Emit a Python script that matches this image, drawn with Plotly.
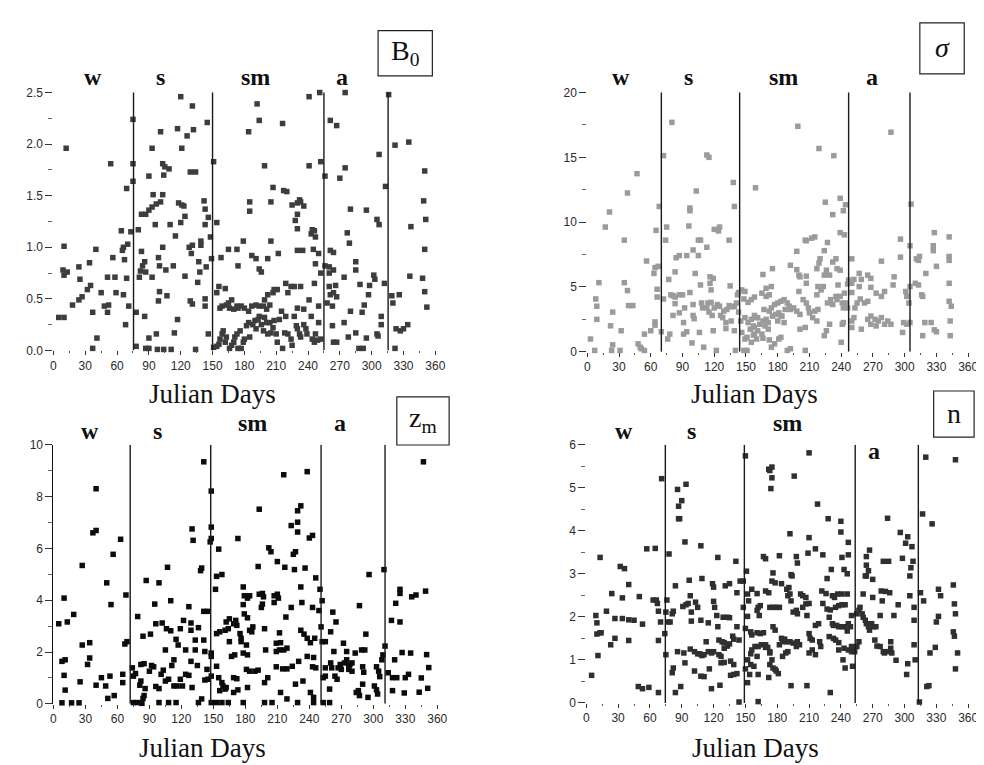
import plotly.graph_objects as go

# ---------------- data (Julian day, value) ----------------
b0_points = [
(5,0.32),(10,0.32),(12,1.96),(10,1.01),(9,0.78),(10,0.73),(13,0.76),(18,0.44),(24,0.49),(27,0.52),
(24,0.81),(25,0.69),(32,0.59),(35,0.63),(34,0.85),(40,0.98),(37,0.37),(41,0.12),(37,0.02),(45,0.56),
(48,0.43),(52,0.44),(51,0.37),(54,1.81),(56,0.90),(51,0.71),(58,0.71),(59,0.56),(66,0.54),(64,1.16),
(65,0.97),(66,1.00),(70,1.03),(67,0.88),(69,0.70),(68,0.25),(71,0.43),(69,1.57),(73,1.15),(75,2.24),
(75,1.81),(75,1.64),(78,0.37),(78,0.04),(80,1.17),(83,1.32),(87,1.32),(90,1.36),(93,1.39),(97,1.42),
(101,1.44),(83,0.96),(82,0.77),(84,0.82),(86,0.86),(87,0.76),(81,0.71),(86,0.33),(90,0.12),(87,0.02),
(90,0.02),(93,1.96),(90,1.69),(94,1.51),(103,1.51),(96,1.22),(93,0.71),(99,0.90),(100,0.82),(100,0.57),
(99,0.48),(107,0.53),(97,0.16),(98,0.01),(104,0.01),(111,0.01),(101,2.12),(103,1.81),(105,1.78),(109,1.76),
(104,1.70),(103,1.00),(106,0.78),(113,0.82),(110,1.22),(115,1.11),(117,2.15),(120,2.46),(121,1.96),(118,1.43),
(121,1.41),(123,1.40),(120,1.24),(124,1.30),(117,0.30),(114,0.17),(124,0.72),(128,1.00),(131,1.02),(130,0.94),
(126,2.08),(132,2.14),(131,2.37),(129,1.73),(134,1.73),(129,0.48),(131,0.45),(137,0.86),(138,0.76),(136,0.66),
(139,1.06),(139,1.02),(134,0.01),(142,1.45),(143,1.37),(143,1.22),(143,0.50),(143,0.43),(144,0.81),(145,2.21),
(146,0.16),
(151,1.83),(146,1.29),(148,1.10),(149,0.89),(154,1.24),(151,0.03),(154,0.04),
(156,0.06),(157,0.11),(159,0.16),(160,0.19),(162,0.08),(163,0.13),(166,0.02),(168,0.05),(170,0.08),(171,0.13),
(173,0.16),(174,0.02),(176,0.19),(177,0.02),(179,0.08),(180,0.11),(182,0.24),(184,0.27),(185,0.13),(188,0.25),
(190,0.29),(191,0.21),(193,0.30),(194,0.33),(196,0.25),(198,0.19),(199,0.32),(201,0.27),(202,0.16),(204,0.27),
(205,0.17),(207,0.22),(208,0.29),(210,0.16),(211,0.08),(213,0.30),(216,0.02),(218,0.17),(219,0.33),(221,0.16),
(224,0.11),(225,0.05),(227,0.33),(229,0.24),(230,0.21),(232,0.16),(233,0.13),(236,0.25),(238,0.21),(239,0.16),
(243,0.33),(244,0.11),(246,0.08),(247,0.16),(249,0.10),(250,0.27),(252,0.11),
(156,0.62),(154,0.56),(157,0.41),(159,0.43),(162,0.60),(163,0.44),(165,0.46),(166,0.41),(168,0.49),(170,0.40),
(173,0.43),(174,0.41),(177,0.43),(180,0.41),(184,0.38),(187,0.43),(191,0.44),(194,0.43),(198,0.43),(201,0.40),
(199,0.49),(202,0.54),(204,0.44),(207,0.56),(208,0.59),(211,0.59),(215,0.38),(219,0.65),(224,0.62),(221,0.56),
(230,0.41),(233,0.62),(236,0.40),(241,0.49),(246,0.65),(247,0.84),(250,0.43),(252,0.75),
(158,0.90),(165,0.98),(173,0.98),(174,0.82),(179,1.06),(187,0.92),(191,0.89),(194,0.79),(196,0.76),(202,0.89),
(205,1.06),(212,0.94),(227,0.62),(230,0.97),(235,0.97),(243,1.13),(244,1.17),(246,1.16),(247,1.10),(245,0.98),
(250,0.94),(185,1.44),(185,1.35),(199,1.79),(205,1.44),(207,1.58),(217,1.55),(220,1.54),(225,1.41),(230,1.43),
(232,1.46),(233,1.44),(236,1.40),(230,1.32),(228,1.26),(230,1.18),(241,1.79),(241,2.46),(251,2.50),(252,1.83),
(256,1.69),(192,2.39),(194,2.23),(184,2.12),(216,2.20),(261,2.23),(267,2.18),(275,2.50),(275,1.77),(270,1.67),
(261,0.97),(264,0.95),(256,0.82),(260,0.81),(264,0.78),(260,0.75),(274,0.71),(261,0.54),(264,0.56),(267,0.52),
(258,0.46),(263,0.43),(260,0.62),(266,0.63),(263,0.24),(264,0.08),(267,0.08),(274,0.27),(278,0.13),(280,0.38),
(280,1.37),(277,1.14),(279,1.04),(285,0.86),(285,0.78),(289,0.64),(295,1.36),(297,0.54),(293,0.44),(291,0.37),
(285,0.17),(288,0.02),(292,0.02),(295,0.12),(298,0.63),(302,0.73),(303,0.69),(305,1.27),(307,1.22),(307,1.90),
(313,1.59),(305,0.16),(306,0.14),(309,0.33),(309,0.25),(312,0.65),(316,2.48),(322,1.99),(319,0.53),(322,0.02),
(326,0.54),(320,0.46),(323,0.21),(327,0.19),(330,0.21),
(335,2.02),(337,1.20),(336,0.72),(334,0.25),(350,1.74),(349,1.45),(351,1.27),(350,0.98),(348,0.70),(350,0.57),(352,0.42),
]

sigma_points = [
(3,0.98),(7,0.10),(8,4.07),(9,3.51),(11,5.33),(9,2.50),(17,9.62),(21,10.78),(22,2.00),(24,3.06),
(24,0.53),(23,0.10),(31,0.10),(32,1.62),(35,8.61),(35,5.33),(38,4.72),(38,12.25),(39,3.56),(43,3.56),
(47,13.74),(48,0.61),(50,0.35),(51,0.23),(54,0.10),(54,1.36),(56,7.00),(60,1.62),(63,6.04),(64,6.49),
(64,2.30),(64,2.05),(66,4.82),(66,4.22),(65,9.37),(67,6.59),(68,11.21),(70,1.54),(72,15.13),(72,4.07),
(74,8.61),(75,9.62),(76,0.98),(77,5.58),(79,4.39),(81,4.32),(83,4.22),(87,4.39),(78,1.36),(80,17.70),
(83,6.16),(81,2.80),(83,3.71),(84,7.25),(87,7.42),(90,4.39),(87,3.00),(91,2.25),(92,3.38),(91,1.36),
(94,1.54),(94,7.42),(96,9.70),(97,10.88),(97,11.09),(97,4.57),(100,7.85),(100,3.64),(99,0.68),(100,2.80),
(101,2.55),(103,12.40),(102,6.04),(105,8.61),(107,8.61),(105,7.42),(107,5.15),(106,1.49),(108,3.76),(109,3.38),
(110,0.35),(113,8.06),(113,15.18),(115,15.00),(116,5.78),(119,5.66),(116,5.28),(114,3.76),(117,3.81),(113,3.38),
(115,3.06),(118,2.80),(117,4.77),(120,9.44),(125,9.62),(124,9.32),(120,3.38),(123,3.64),(125,3.51),(119,1.62),
(122,0.10),(126,2.80),(128,2.63),(129,3.13),(132,3.26),(131,2.25),(131,1.79),(134,8.61),(134,3.56),(135,5.08),
(136,2.37),(137,3.46),(139,3.51),(141,3.76),(138,13.06),(139,11.21),(139,1.62),(140,0.10),(143,4.57),(143,3.06),
(145,2.37),(142,4.39),(146,4.77),(148,4.07),(149,4.65),(146,1.49),(149,0.98),(151,1.11),(154,1.74),(155,0.73),
(158,1.36),(149,2.63),(152,2.25),(155,2.50),(157,1.99),(160,2.63),(148,0.10),(151,0.10),(152,3.81),(155,4.02),
(158,4.22),(159,12.65),
(158,1.87),(157,1.29),(160,0.98),(161,1.62),(165,1.36),(166,1.04),(158,2.80),(161,2.63),(163,2.12),(166,2.37),
(169,2.50),(171,2.25),(165,4.52),(169,4.27),(172,4.39),(168,1.99),(171,1.74),(167,3.26),(172,3.13),(174,3.38),
(177,3.64),(180,3.76),(183,3.89),(186,4.02),(189,3.76),(191,3.51),(192,3.26),(175,2.75),(178,2.88),(181,3.00),
(184,2.75),(187,3.26),(195,3.38),(198,3.13),(201,2.88),(172,0.91),(177,0.61),(181,0.98),(183,1.11),(174,0.35),
(175,6.41),(169,4.90),(174,5.03),(180,2.37),(186,2.25),(183,2.75),(166,5.96),(189,0.10),(192,0.23),(206,0.10),
(192,6.67),(198,6.34),(200,5.91),(198,7.75),(199,17.40),(201,5.78),(207,5.83),(207,5.28),(200,4.65),(204,4.02),
(207,3.76),(209,3.38),(201,1.74),(206,1.87),(206,8.61),(207,8.56),(212,8.76),(215,8.86),(210,3.00),(213,2.63),
(217,2.37),(215,3.13),(218,3.26),(217,4.39),(218,5.03),(221,4.77),(217,6.41),(219,6.84),(220,7.17),(219,15.68),
(224,5.91),(226,6.29),(223,5.03),(224,7.80),(227,8.43),(225,11.54),(224,1.24),(226,1.62),(229,2.12),(227,3.76),
(230,4.02),(232,3.64),(235,4.27),(229,5.91),(232,6.92),(232,10.58),(233,15.13),(235,7.17),(236,6.41),(239,6.29),
(237,5.15),(239,4.27),(241,3.76),(242,3.38),(236,4.02),(239,11.84),(239,9.19),(244,11.34),(242,10.88),(240,0.73),
(241,2.12),(242,2.25),(243,9.02),(244,3.76),(246,3.38),(243,4.52),(246,5.23),(247,5.53),(250,5.28),(252,5.58),
(250,4.57),(257,5.03),(259,5.58),(250,7.17),(250,1.87),(250,2.37),(252,2.63),(253,3.38),(255,3.76),(258,4.07),
(262,3.76),(265,3.89),(259,1.74),(257,6.04),(265,5.91),(268,5.66),(268,4.97),(265,2.50),(268,2.75),(272,2.50),
(275,2.37),(278,2.63),(281,2.12),(268,2.12),(273,1.99),(273,4.52),(278,4.27),(281,4.65),(278,6.99),(287,16.94),
(284,2.37),(287,2.12),(289,5.15),(290,5.78),(296,8.69),(296,7.30),(298,1.49),(299,2.25),(302,2.12),(305,2.25),
(301,4.65),(302,4.27),(304,3.76),(305,5.03),(305,8.18),(306,11.39),(311,7.17),(313,7.05),(314,7.35),(310,5.28),
(313,5.15),(316,4.39),(317,4.27),(320,6.04),(319,2.25),(317,1.24),(325,2.25),(327,7.80),(327,8.18),(328,9.19),
(330,6.59),(328,1.69),(330,1.54),(342,8.86),(342,7.35),(342,7.05),(342,5.28),(342,3.89),(344,3.51),(343,2.37),
(343,1.24),
]

zm_points = [
(5,3.09),(10,4.08),(8,1.64),(11,1.70),(10,1.10),(11,0.53),(8,0.04),(13,3.16),(19,3.45),(17,0.04),
(24,0.04),(25,0.85),(27,5.34),(27,2.27),(34,2.36),(34,1.77),(32,1.52),(37,6.60),(40,6.69),(40,8.30),
(40,0.72),(45,1.01),(49,0.69),(50,4.67),(53,1.07),(51,0.21),(54,3.83),(56,5.77),(57,0.32),(63,6.35),
(65,0.82),(65,1.14),(67,2.31),(69,2.40),(68,4.20),(75,1.07),(77,1.17),(74,1.39),(79,3.37),(81,0.72),
(82,0.88),(82,1.52),(85,1.55),(84,2.61),(86,0.59),(84,0.21),(85,0.32),(91,2.69),(87,4.76),(90,1.26),
(92,1.48),(94,1.43),(95,3.85),(96,3.09),(96,0.67),(99,0.59),(99,4.67),(101,1.14),(103,1.30),(102,3.12),
(106,2.90),(110,2.82),(107,5.27),(105,2.08),(105,0.88),(108,0.95),(113,0.69),(111,1.48),(113,1.70),(110,3.98),
(115,2.49),(116,0.69),(121,0.69),(117,2.27),(119,2.90),(119,0.95),(122,3.22),(124,2.08),(124,1.14),(127,1.10),
(127,3.75),(129,2.84),(129,3.12),(130,6.75),(131,6.31),(130,0.63),(129,1.64),(133,2.46),(133,2.08),(135,1.48),
(136,2.94),(138,5.14),(139,5.24),(139,0.19),(141,9.34),(141,3.57),(141,2.46),(142,2.02),(142,0.92),
(75,0.05),(79,0.05),(83,0.02),(99,0.05),(108,0.05),(115,0.05),(136,0.05),
(145,3.57),(148,8.21),(148,6.82),(148,6.38),(147,6.25),(144,1.33),(145,0.95),(148,1.07),(148,1.96),(148,1.83),
(153,4.92),(158,4.99),(155,5.97),(152,4.42),(153,2.71),(156,2.78),(153,1.45),(155,1.01),(158,0.82),(159,0.69),
(161,0.57),(162,0.63),(156,0.51),(161,2.84),(164,2.90),(162,3.16),(165,3.28),(165,2.40),(167,1.83),(170,1.89),
(169,1.01),(172,0.97),(169,3.09),(171,3.22),(172,3.03),(169,0.44),(173,0.54),(173,6.38),(175,2.71),(176,2.53),
(176,2.40),(178,4.51),(178,3.83),(179,4.17),(182,4.08),(184,4.17),(179,3.47),(182,3.32),(178,1.96),(182,1.89),
(181,2.27),(182,0.63),(184,2.84),(186,2.78),(187,2.97),(181,1.33),(184,1.26),(189,1.26),(192,1.30),(192,5.30),
(193,7.51),(193,4.23),(196,4.26),(197,4.13),(195,3.72),(196,3.85),(198,2.90),(199,2.08),(201,1.01),(198,0.82),
(202,6.02),(204,5.87),(207,4.17),(210,4.23),(211,4.08),(207,3.91),(210,5.49),(212,2.74),(209,2.34),(213,2.36),
(209,2.02),(212,2.08),(216,2.08),(219,2.15),(209,1.43),(215,1.35),(219,1.35),(216,8.84),(217,5.27),(218,3.35),
(213,0.44),(219,0.19),(223,6.88),(223,3.72),(224,1.45),(225,5.77),(227,5.87),(226,5.18),(227,0.76),(229,6.63),
(229,7.01),(229,7.45),(230,1.64),(232,7.64),(232,2.84),(235,2.69),(232,4.51),(233,3.91),(234,0.88),(236,5.24),
(238,8.96),(240,6.40),(243,6.50),(238,2.53),(241,2.36),(238,1.83),(243,3.72),(243,1.43),(246,1.39),(241,0.44),
(244,0.25),(244,1.79),(245,2.53),(246,4.86),(249,3.60),(250,4.42),(251,2.97),(252,2.40),(255,2.40),(252,3.98),
(253,1.01),(255,1.07),(255,1.39),(259,0.57),(260,2.78),(260,1.58),(261,1.39),(262,3.54),(263,2.02),(265,3.16),
(264,1.07),(266,0.95),(267,1.39),(269,1.52),(270,1.33),(272,2.34),(273,1.58),(275,1.70),(277,1.45),(278,1.52),
(280,1.58),(275,2.02),(277,1.33),(280,1.26),(283,1.96),(284,0.44),(286,0.51),(287,0.32),(287,3.79),(289,2.08),
(290,1.43),(291,1.22),(293,2.69),(292,2.08),(290,0.76),(295,0.25),(296,4.99),(303,1.43),(301,0.69),(303,0.54),
(304,0.38),(305,1.26),(306,1.05),(308,1.70),(309,1.89),(310,5.18),(311,2.23),(314,1.20),(318,1.01),(318,0.51),
(320,1.70),(321,3.88),(322,1.01),(317,3.22),(325,3.16),(325,4.42),(325,4.26),(327,1.98),(329,0.42),(330,1.01),
(336,4.13),(335,1.96),(333,1.14),
(148,0.05),(153,0.05),(158,0.05),(164,0.05),(178,0.05),(198,0.05),(205,0.05),(229,0.05),(244,0.05),(253,0.05),(259,0.05),
(347,9.34),(349,4.35),(340,4.20),(350,1.90),(352,1.40),(351,0.60),(345,1.00),(343,0.45),
]

n_points = [
(5,0.64),(9,2.03),(10,1.86),(10,1.60),(13,3.38),(11,1.10),(13,1.63),(14,1.63),(19,2.13),(23,1.35),
(24,2.54),(27,1.50),(27,1.96),(32,3.17),(36,3.12),(34,2.44),(34,1.96),(40,2.75),(40,1.93),(45,1.92),
(40,1.45),(49,0.38),(53,0.33),(50,2.47),(53,1.83),(57,3.58),(59,0.36),(65,3.59),(63,2.39),(66,2.39),
(67,2.31),(68,2.13),(68,1.45),(68,0.24),(70,1.88),(71,5.21),(74,1.61),(75,1.12),(75,2.11),(76,2.39),
(77,1.88),(79,1.88),(78,3.46),(81,2.07),(82,2.13),(81,0.70),(82,0.81),(84,2.72),(84,0.24),(86,4.96),
(87,4.57),(87,4.28),(88,4.28),(89,0.38),(86,1.19),(90,4.70),(91,2.24),(94,2.28),(96,2.31),(93,3.74),
(92,1.16),(93,0.93),(94,5.08),(97,2.85),(98,2.49),(99,2.11),(98,1.25),(102,1.19),(105,1.14),(102,0.74),
(99,1.90),(103,2.34),(105,2.22),(107,1.14),(109,1.10),(111,1.12),(108,3.65),(109,2.89),(108,1.92),(108,0.62),
(111,0.61),(113,1.42),(115,1.19),(118,1.16),(120,1.19),(115,1.86),(116,0.79),(118,0.33),(119,2.77),(120,2.69),
(120,2.36),(121,2.22),(124,3.38),(123,2.03),(124,1.77),(125,1.12),(127,1.08),(125,1.46),(128,1.42),(130,1.40),
(126,0.41),(127,0.93),(130,0.94),(129,1.99),(133,1.99),(135,1.98),(131,2.72),(135,2.77),(130,1.27),(133,1.32),
(135,1.37),(136,0.64),(139,0.66),(142,0.68),(136,0.97),(139,0.89),(138,1.55),(139,1.48),(141,3.29),(142,2.56),
(142,1.77),(144,1.46),(144,0.02),(145,2.83),(148,2.83),(148,2.22),(150,0.79),(151,3.06),(152,0.47),(152,2.01),
(150,5.74),(152,2.53),(153,2.37),(150,1.73),(155,1.65),(156,1.58),(154,0.66),(152,1.00),(155,0.89),(158,0.85),
(155,1.14),(156,1.23),(156,2.64),(161,2.54),(159,1.31),(162,0.03),(161,2.15),(163,2.03),
(162,2.22),(164,2.26),(161,1.63),(164,1.61),(167,1.63),(162,1.31),(165,1.35),(169,1.29),(161,1.08),(162,0.66),
(167,3.40),(169,3.35),(172,5.43),(173,5.40),(175,5.48),(175,5.23),(174,4.98),(176,3.02),(175,2.83),(178,2.79),
(169,2.60),(172,2.56),(173,2.22),(176,2.22),(169,1.35),(171,1.29),(173,1.19),(173,1.16),(175,1.00),(173,0.89),
(176,0.81),(178,0.78),(179,0.74),(181,0.68),(172,0.59),(176,1.77),(178,1.69),(182,3.42),(184,2.77),(179,2.22),
(182,2.22),(184,1.50),(182,1.35),(185,1.42),(187,1.48),(189,1.42),(192,1.42),(195,1.39),(185,1.08),(188,1.16),
(190,1.19),(189,2.64),(190,2.49),(192,2.53),(193,2.37),(191,2.68),(192,3.93),(193,2.98),(194,2.95),(193,0.40),
(195,2.11),(198,2.15),(199,2.07),(196,5.27),(198,3.40),(199,3.25),(198,1.31),(199,1.42),(201,1.35),(202,2.53),
(204,2.49),(207,2.45),(204,2.22),(207,2.30),(210,2.31),(208,2.03),(209,3.48),(210,3.84),(210,5.81),(210,1.61),
(211,1.50),(213,1.46),(208,0.40),(210,1.16),(213,1.23),(216,1.12),(216,1.80),(219,1.84),(216,3.58),(218,4.62),
(220,1.42),(221,1.31),(223,3.44),(222,2.60),(223,2.31),(227,2.89),(228,4.28),(226,2.54),(227,2.18),(230,2.16),
(229,1.99),(232,1.84),(233,1.80),(230,0.24),(229,1.54),(233,1.50),(235,1.46),(238,1.40),(231,3.10),(232,2.49),
(234,2.45),(237,2.53),(241,2.53),(246,2.53),(235,2.22),(238,2.26),(241,2.28),(244,2.28),(236,1.80),(238,1.77),
(241,1.77),(244,1.77),(246,1.67),(240,4.22),(240,3.97),(241,3.38),(243,3.10),(238,1.23),(243,1.27),(242,1.00),
(244,0.81),(246,3.00),(247,3.73),(247,3.44),(247,1.84),(249,1.77),(247,1.23),(250,1.19),(251,0.85),(250,2.03),
(250,1.31),(255,2.07),(257,2.15),(258,2.22),(260,2.07),(261,1.99),(263,1.92),(264,1.84),(266,1.77),(267,1.69),
(257,1.42),(253,1.19),(255,1.31),(261,2.53),(263,2.95),(264,2.95),(264,3.20),(264,3.40),(266,3.07),(267,3.55),
(270,2.45),(270,2.87),(269,1.84),(271,1.77),(273,1.77),(272,1.46),(274,1.32),(277,1.31),(280,1.19),(281,1.16),
(284,1.19),(287,1.27),(288,1.16),(278,2.60),(279,2.37),(282,2.59),(286,2.56),(280,3.29),(284,4.29),(285,3.29),
(277,2.03),(287,1.42),(290,2.03),(292,0.99),(294,2.28),(296,3.96),(298,3.36),(301,3.71),(303,3.86),(302,0.66),
(303,0.91),(305,2.49),(305,2.95),(306,3.14),(307,3.63),(308,3.29),(309,1.92),(309,2.22),(309,1.35),(310,1.00),
(314,0.02),(315,2.56),(317,4.39),(318,2.37),(320,5.71),(321,0.38),(323,0.40),(324,1.16),(326,4.16),(330,1.88),
(332,2.01),(332,2.64),(334,2.49),(329,1.29),(346,2.74),(347,2.30),(348,2.07),(346,1.65),(347,1.55),(348,5.65),
(350,1.16),(348,0.79),
]

# season boundaries (Julian day) per panel
b0_bounds = [75.5, 150, 255, 315.5]
sigma_bounds = [70, 144, 247, 305]
zm_bounds = [72, 147.5, 251, 311]
n_bounds = [74.5, 149, 253.5, 313]

season_labels = ["w", "s", "sm", "a"]
day_ticks = list(range(0, 361, 30))

# ---------------- layout helpers ----------------
W, H = 984, 765
def px(x): return x / W
def py(y): return 1 - y / H

panels = [
    dict(pts=b0_points, bounds=b0_bounds, ymax=2.5, dtick=0.5, fmt=".1f", color="#3d3d3d",
         xd=(43, 430), yd=(79, 341.7), line=False),
    dict(pts=sigma_points, bounds=sigma_bounds, ymax=20, dtick=5, fmt="d", color="#9b9b9b",
         xd=(584, 970), yd=(79, 343), line=False),
    dict(pts=zm_points, bounds=zm_bounds, ymax=10, dtick=2, fmt="d", color="#0c0c0c",
         xd=(43, 432), yd=(437.7, 701.7), line=True),
    dict(pts=n_points, bounds=n_bounds, ymax=6, dtick=1, fmt="d", color="#2f2f2f",
         xd=(583, 970), yd=(437.7, 700.7), line=False),
]

fig = go.Figure()
layout = dict(width=W, height=H, margin=dict(l=0, r=0, t=0, b=0),
              paper_bgcolor="white", plot_bgcolor="white", showlegend=False)
shapes, annotations = [], []
tickfont = dict(family="Liberation Sans, Arial, sans-serif", size=12, color="#2a2a2a")

for i, p in enumerate(panels, start=1):
    sfx = "" if i == 1 else str(i)
    xs = [d for d, v in p["pts"]]
    ys = [v for d, v in p["pts"]]
    fig.add_trace(go.Scatter(x=xs, y=ys, mode="markers", xaxis="x" + sfx, yaxis="y" + sfx,
                             cliponaxis=False,
                             marker=dict(symbol="square", size=5.5, color=p["color"], line=dict(width=0))))
    layout["xaxis" + sfx] = dict(
        domain=[px(p["xd"][0]), px(p["xd"][1])], anchor="y" + sfx, range=[0, 360],
        tickmode="array", tickvals=day_ticks, ticks="outside", ticklen=4, tickwidth=1,
        tickcolor="#333", showgrid=False, zeroline=False, showline=False, tickfont=tickfont,
        minor=dict(tickmode="array", tickvals=list(range(15, 360, 30)), ticks="outside",
                   ticklen=2, tickcolor="#555", showgrid=False))
    layout["yaxis" + sfx] = dict(
        domain=[py(p["yd"][1]), py(p["yd"][0])], anchor="x" + sfx, range=[0, p["ymax"]],
        dtick=p["dtick"], tick0=0, tickformat=p["fmt"], ticks="outside", ticklen=7, tickwidth=1,
        tickcolor="#333", showgrid=False, zeroline=False, showline=p["line"], linecolor="#111",
        linewidth=1, tickfont=tickfont,
        minor=dict(dtick=p["dtick"] / 2, tick0=0, ticks="outside", ticklen=4,
                   tickcolor="#666", showgrid=False))
    top = p["ymax"] * (1.012 if i <= 2 else 1.0)
    for b in p["bounds"]:
        shapes.append(dict(type="line", xref="x" + sfx, yref="y" + sfx, x0=b, x1=b, y0=0, y1=top,
                           line=dict(color="#1a1a1a", width=1.4)))

fig.update_layout(**layout)

# season labels (pixel centres)
label_pos = [
    [(83, 63), (152, 63), (248, 63), (335, 63)],
    [(618, 63), (687, 63), (783, 63), (873, 63)],
    [(80, 424), (148, 424), (245, 416), (333, 416)],
    [(621, 424), (690, 424), (787, 416), (875, 444)],
]
for pos in label_pos:
    for (x, y), t in zip(pos, season_labels):
        annotations.append(dict(text="<b>" + t + "</b>", x=px(x), y=py(y), xref="paper", yref="paper",
                                showarrow=False, xanchor="center", yanchor="middle",
                                font=dict(family="Liberation Serif, Times New Roman, serif",
                                          size=24, color="#111")))

# axis titles
for (x, y) in [(204, 386), (753, 386), (194, 747), (754, 747)]:
    annotations.append(dict(text="Julian Days", x=px(x), y=py(y), xref="paper", yref="paper",
                            showarrow=False, xanchor="center", yanchor="middle",
                            font=dict(family="Liberation Serif, Times New Roman, serif",
                                      size=27, color="#111")))

# parameter boxes
boxes = [
    ((372, 16, 427, 62), "B<sub>0</sub>", False),
    ((921, 8, 966, 60), "σ", True),
    ((391, 389, 444, 438), "z<sub>m</sub>", False),
    ((935, 383, 976, 430), "n", False),
]
for (x0, y0, x1, y1), t, ital in boxes:
    shapes.append(dict(type="rect", xref="paper", yref="paper", x0=px(x0), x1=px(x1),
                       y0=py(y1), y1=py(y0), line=dict(color="#222", width=1.2)))
    annotations.append(dict(text=("<i>" + t + "</i>") if ital else t,
                            x=px((x0 + x1) / 2), y=py((y0 + y1) / 2 - 1), xref="paper", yref="paper",
                            showarrow=False, xanchor="center", yanchor="middle",
                            font=dict(family="Liberation Serif, Times New Roman, serif",
                                      size=28, color="#111")))

fig.update_layout(shapes=shapes, annotations=annotations)
fig.write_html("out.html")
